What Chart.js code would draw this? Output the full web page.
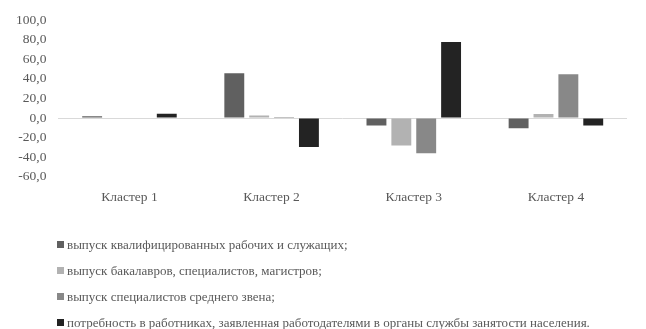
<!DOCTYPE html>
<html>
<head>
<meta charset="utf-8">
<script src="https://cdn.jsdelivr.net/npm/chart.js@4"></script>
<style>
  html, body { margin: 0; padding: 0; background: #fff; }
  #wrap { position: relative; width: 646px; height: 329px; }
  #legend { position: absolute; left: 57px; top: 236px; font-family: "Liberation Serif", "Times New Roman", serif; font-size: 13px; color: #595959; }
  #legend div { height: 26px; line-height: 18px; white-space: nowrap; }
  #legend span.box { display: inline-block; width: 7px; height: 7px; margin-right: 3px; vertical-align: 1px; }
</style>
</head>
<body>
<div id="wrap">
  <canvas id="c" width="646" height="329"></canvas>
  <div id="legend"></div>
</div>
<script>
// Categories and series
const categories = ['Кластер 1', 'Кластер 2', 'Кластер 3', 'Кластер 4'];
const seriesNames = [
  'выпуск квалифицированных рабочих и служащих;',
  'выпуск бакалавров, специалистов, магистров;',
  'выпуск специалистов среднего звена;',
  'потребность в работниках, заявленная работодателями в органы службы занятости населения.'
];
const workers = [1.8, 45.8, -7.5, -10.3];
const bachelors = [0.0, 2.5, -28.1, 4.0];
const midLevel = [0.0, 1.0, -36.0, 44.8];
const demand = [4.5, -29.5, 77.7, -7.5];
const yTicks = { min: -60, max: 100, step: 20 };

const colors = ['#606060', '#b2b2b2', '#888888', '#232323'];
const values = [workers, bachelors, midLevel, demand];

const textColor = '#595959';
const font = { family: '"Liberation Serif", "Times New Roman", serif', size: 13.5 };

const datasets = seriesNames.map((name, i) => ({
  label: name,
  data: values[i],
  backgroundColor: colors[i],
  borderWidth: 0,
  categoryPercentage: 0.7,
  barPercentage: 0.8,
}));

new Chart(document.getElementById('c'), {
  type: 'bar',
  data: { labels: categories, datasets },
  options: {
    responsive: false,
    animation: false,
    layout: { padding: { left: 4, right: 19, top: 15, bottom: 118 } },
    plugins: { legend: { display: false }, tooltip: { enabled: false } },
    scales: {
      x: {
        grid: { display: false },
        border: { display: false },
        ticks: { color: textColor, font, padding: 5 },
      },
      y: {
        min: yTicks.min,
        max: yTicks.max,
        border: { display: false },
        grid: {
          drawTicks: false,
          color: (ctx) => (ctx.tick && ctx.tick.value === 0 ? '#d9d9d9' : 'rgba(0,0,0,0)'),
        },
        ticks: {
          stepSize: yTicks.step,
          autoSkip: false,
          color: textColor,
          font,
          padding: 12,
          callback: (v) => v.toFixed(1).replace('.', ','),
        },
      },
    },
  },
});

// HTML legend, one item per line
const legend = document.getElementById('legend');
seriesNames.forEach((name, i) => {
  const row = document.createElement('div');
  const box = document.createElement('span');
  box.className = 'box';
  box.style.background = colors[i];
  row.appendChild(box);
  row.appendChild(document.createTextNode(name));
  legend.appendChild(row);
});
</script>
</body>
</html>
